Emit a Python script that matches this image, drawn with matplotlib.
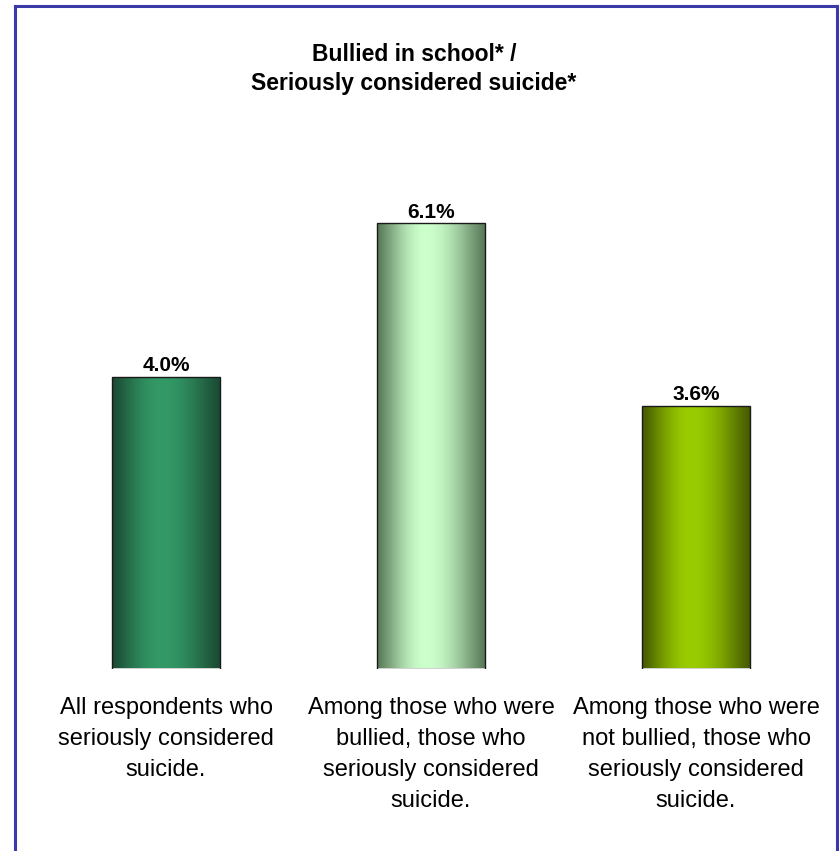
import matplotlib
matplotlib.use("Agg")
import matplotlib.pyplot as plt
import numpy as np
from matplotlib.colors import to_rgb
from matplotlib.patches import Rectangle

plt.rcParams['font.family'] = ['Liberation Sans', 'DejaVu Sans']

categories = ["All respondents who\nseriously considered\nsuicide.",
              "Among those who were\nbullied, those who\nseriously considered\nsuicide.",
              "Among those who were\nnot bullied, those who\nseriously considered\nsuicide."]
values = [4.0, 6.1, 3.6]
value_labels = ["4.0%", "6.1%", "3.6%"]
edge_colors = ["#1a4a33", "#587858", "#465a00"]
center_colors = ["#339966", "#ccffcc", "#99cc00"]
title_lines = ["Bullied in school* /", "Seriously considered suicide*"]

W, H = 839, 851
fig = plt.figure(figsize=(W / 100, H / 100), dpi=100)

# border (no bottom)
bx0, bx1, by = 15 / W, 837 / W, 1 - 6 / H
border_col = "#3a3aa8"
fig.add_artist(plt.Line2D([bx0, bx0], [0, by], transform=fig.transFigure, color=border_col, lw=2.2))
fig.add_artist(plt.Line2D([bx1, bx1], [0, by], transform=fig.transFigure, color=border_col, lw=2.2))
fig.add_artist(plt.Line2D([bx0, bx1], [by, by], transform=fig.transFigure, color=border_col, lw=2.2))

ymax = 7.0
px_per_unit = 73.0
base_y = 668.5
left_px, right_px = 33.5, 828.5
top_px = base_y - ymax * px_per_unit
ax = fig.add_axes([left_px / W, 1 - base_y / H, (right_px - left_px) / W, (base_y - top_px) / H])
ax.set_xlim(-0.5, 2.5)
ax.set_ylim(0, ymax)
ax.axis('off')

x = np.arange(len(values))
width = 0.408
bars = ax.bar(x, values, width=width, facecolor='none', edgecolor='#1a1a1a', linewidth=1.0, zorder=3)

t = np.linspace(0, 1, 256)
peak = 0.45
d = np.where(t < peak, (peak - t) / peak, (t - peak) / (1 - peak))
w = np.cos(np.clip(d, 0, 1) * np.pi / 2) ** 1.2

for b, ec, cc in zip(bars, edge_colors, center_colors):
    e = np.array(to_rgb(ec))
    c = np.array(to_rgb(cc))
    grad = e[None, :] * (1 - w[:, None]) + c[None, :] * w[:, None]
    img = grad[None, :, :]
    x0 = b.get_x()
    im = ax.imshow(img, extent=[x0, x0 + b.get_width(), 0, b.get_height()],
                   aspect='auto', zorder=2, interpolation='bilinear')
    clip = Rectangle((x0, 0), b.get_width(), b.get_height(), transform=ax.transData)
    im.set_clip_path(clip)

for xi, v, lab in zip(x, values, value_labels):
    ax.annotate(lab, (xi, v), xytext=(0, 3.8), textcoords='offset points',
                ha='center', va='baseline', fontsize=15, fontweight='bold')

# category labels, line by line (baselines ~31 px apart)
first_baseline_px = 714
line_step_px = 31
for xi, cat in zip(x, categories):
    for k, line in enumerate(cat.split("\n")):
        off_pt = -(first_baseline_px - base_y + k * line_step_px) * 72 / 100
        ax.annotate(line, (xi, 0), xytext=(0, off_pt), textcoords='offset points',
                    ha='center', va='baseline', fontsize=17, annotation_clip=False)

title_baselines = [61, 90]
for line, yb in zip(title_lines, title_baselines):
    fig.text(414 / W, 1 - yb / H, line, ha='center', va='baseline', fontsize=16.5,
             fontweight='bold')

fig.savefig("out.png", dpi=100)
